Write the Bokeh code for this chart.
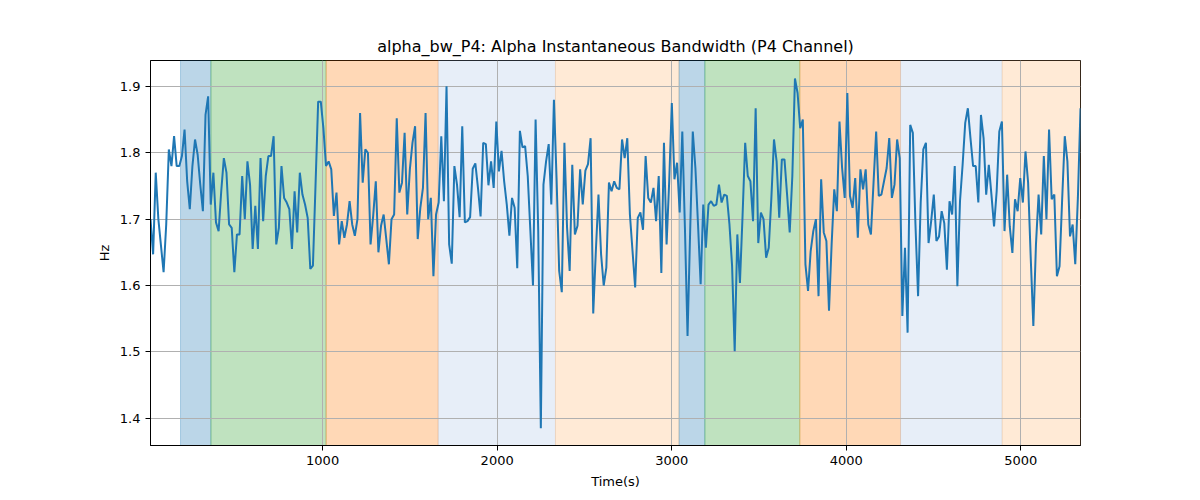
import numpy as np
from bokeh.plotting import figure
from bokeh.models import BoxAnnotation, FixedTicker, Range1d
from bokeh.embed import file_html
from bokeh.resources import INLINE

# ---- data ----
t_start = 14.0
t_end = 5342.0

seg1 = [1.70, 1.647, 1.77, 1.70, 1.66, 1.62, 1.692, 1.805, 1.78, 1.825, 1.78, 1.78, 1.795, 1.835,
        1.757, 1.715, 1.78, 1.82, 1.797, 1.752, 1.712, 1.857, 1.885, 1.722, 1.77, 1.695, 1.682,
        1.742, 1.792, 1.77, 1.692, 1.687, 1.62, 1.677, 1.677, 1.765, 1.70, 1.787, 1.752, 1.655,
        1.72, 1.655, 1.792, 1.697, 1.765, 1.795, 1.795, 1.825, 1.662, 1.687, 1.78, 1.732, 1.725,
        1.715, 1.655, 1.742, 1.68, 1.77, 1.737, 1.722, 1.702, 1.625, 1.63, 1.752, 1.877, 1.877,
        1.837, 1.78, 1.787, 1.775, 1.705, 1.74, 1.662, 1.697, 1.672, 1.692, 1.727, 1.692, 1.675,
        1.70, 1.86, 1.755, 1.805, 1.80, 1.662, 1.705, 1.757, 1.65]
seg2 = [1.69, 1.707, 1.67, 1.632, 1.70, 1.707, 1.852, 1.74, 1.755, 1.83, 1.707, 1.775, 1.815,
        1.84, 1.67, 1.717, 1.747, 1.86, 1.70, 1.732, 1.614, 1.707, 1.725, 1.825, 1.727, 1.90,
        1.662, 1.633, 1.78, 1.752, 1.703, 1.84, 1.695, 1.697, 1.703, 1.776, 1.784, 1.747, 1.704,
        1.815, 1.813, 1.751, 1.787, 1.747, 1.847, 1.772, 1.803, 1.757, 1.722, 1.675, 1.732,
        1.717, 1.626, 1.833, 1.808, 1.81, 1.765, 1.683, 1.60, 1.85, 1.683, 1.385, 1.752, 1.787,
        1.813, 1.722, 1.88, 1.762, 1.622, 1.59, 1.815, 1.688, 1.622, 1.782, 1.677, 1.69, 1.775,
        1.722, 1.773, 1.783, 1.822, 1.558, 1.652, 1.737, 1.647]
seg3 = [1.60, 1.627, 1.755, 1.742, 1.757, 1.747, 1.745, 1.82, 1.792, 1.822, 1.707, 1.652, 1.597,
        1.702, 1.71, 1.684, 1.795, 1.732, 1.725, 1.747, 1.697, 1.765, 1.619, 1.815, 1.662, 1.757,
        1.875, 1.76, 1.785, 1.71, 1.832, 1.687, 1.524, 1.682, 1.832, 1.777, 1.692, 1.602, 1.722,
        1.657, 1.722, 1.727, 1.72, 1.722, 1.752, 1.725, 1.737, 1.735, 1.692, 1.63, 1.501, 1.677,
        1.604, 1.705, 1.815, 1.765, 1.757, 1.697, 1.867, 1.664, 1.71, 1.70, 1.642, 1.657, 1.732,
        1.82, 1.787, 1.702, 1.79, 1.79, 1.737, 1.68, 1.765, 1.912, 1.89, 1.837, 1.85, 1.632,
        1.592, 1.652, 1.682, 1.70, 1.584, 1.76, 1.68, 1.667, 1.562, 1.662]
seg4 = [1.745, 1.712, 1.847, 1.777, 1.732, 1.89, 1.735, 1.717, 1.762, 1.672, 1.775, 1.745, 1.775,
        1.692, 1.677, 1.755, 1.832, 1.735, 1.737, 1.757, 1.777, 1.822, 1.732, 1.752, 1.82, 1.792,
        1.554, 1.657, 1.529, 1.842, 1.83, 1.692, 1.584, 1.725, 1.805, 1.815, 1.664, 1.697, 1.737,
        1.667, 1.674, 1.712, 1.694, 1.624, 1.727, 1.707, 1.78, 1.599, 1.727, 1.782, 1.845, 1.867,
        1.822, 1.78, 1.78, 1.725, 1.857, 1.822, 1.737, 1.782, 1.737, 1.689, 1.742, 1.832, 1.847,
        1.682, 1.767, 1.689, 1.649, 1.73, 1.712, 1.762, 1.725, 1.802, 1.755, 1.642, 1.539, 1.662,
        1.737, 1.677, 1.795, 1.70, 1.835, 1.73, 1.737, 1.614, 1.629, 1.73, 1.825, 1.787, 1.674,
        1.692, 1.632, 1.732, 1.867]

values = seg1 + seg2 + seg3 + seg4
times = np.linspace(t_start, t_end, len(values))

span_starts = [186, 360, 1020, 1662, 2334, 3042, 3190, 3734, 4311, 4893]
span_ends = [360, 1020, 1662, 2334, 3042, 3190, 3734, 4311, 4893, 5342]
span_colors = ["#1f77b4", "#2ca02c", "#ff7f0e", "#aec7e8", "#ffbb78",
               "#1f77b4", "#2ca02c", "#ff7f0e", "#aec7e8", "#ffbb78"]

x_ticks = [1000, 2000, 3000, 4000, 5000]
y_ticks = [1.4, 1.5, 1.6, 1.7, 1.8, 1.9]

title = "alpha_bw_P4: Alpha Instantaneous Bandwidth (P4 Channel)"

# ---- figure ----
p = figure(frame_width=930, frame_height=385,
           min_border_left=150, min_border_right=104,
           min_border_top=60, min_border_bottom=47,
           output_backend="svg", toolbar_location=None,
           x_range=Range1d(t_start, t_end), y_range=Range1d(1.359, 1.939),
           title=title)

FONT = "DejaVu Sans"
p.title.text_font = FONT
p.title.text_font_size = "16px"
p.title.text_font_style = "normal"
p.title.align = "center"
p.title.text_color = "black"

for s, e, c in zip(span_starts, span_ends, span_colors):
    p.add_layout(BoxAnnotation(left=s, right=e, fill_color=c, fill_alpha=0.3,
                               line_color=c, line_alpha=0.3, line_width=1,
                               level="image"))

p.line(times, values, line_color="#1f77b4", line_width=2)

p.xaxis.ticker = FixedTicker(ticks=x_ticks)
p.yaxis.ticker = FixedTicker(ticks=y_ticks)
p.xaxis.axis_label = "Time(s)"
p.yaxis.axis_label = "Hz"

for ax in (p.xaxis[0], p.yaxis[0]):
    ax.axis_label_text_font = FONT
    ax.axis_label_text_font_size = "13px"
    ax.axis_label_text_font_style = "normal"
    ax.axis_label_text_color = "black"
    ax.major_label_text_font = FONT
    ax.major_label_text_font_size = "13px"
    ax.major_label_text_color = "black"
    ax.major_tick_out = 5
    ax.major_tick_in = 0
    ax.minor_tick_out = 0
    ax.minor_tick_in = 0
    ax.axis_line_color = "black"
    ax.major_tick_line_color = "black"

p.xaxis.axis_label_standoff = 6
p.yaxis.axis_label_standoff = 5

p.xgrid.grid_line_color = "#b0b0b0"
p.ygrid.grid_line_color = "#b0b0b0"
p.xgrid.grid_line_width = 1
p.ygrid.grid_line_width = 1

p.outline_line_color = "black"
p.outline_line_alpha = 1
p.outline_line_width = 1
p.background_fill_color = "white"
p.border_fill_color = "white"

open("out.html", "w").write(file_html(p, INLINE))
